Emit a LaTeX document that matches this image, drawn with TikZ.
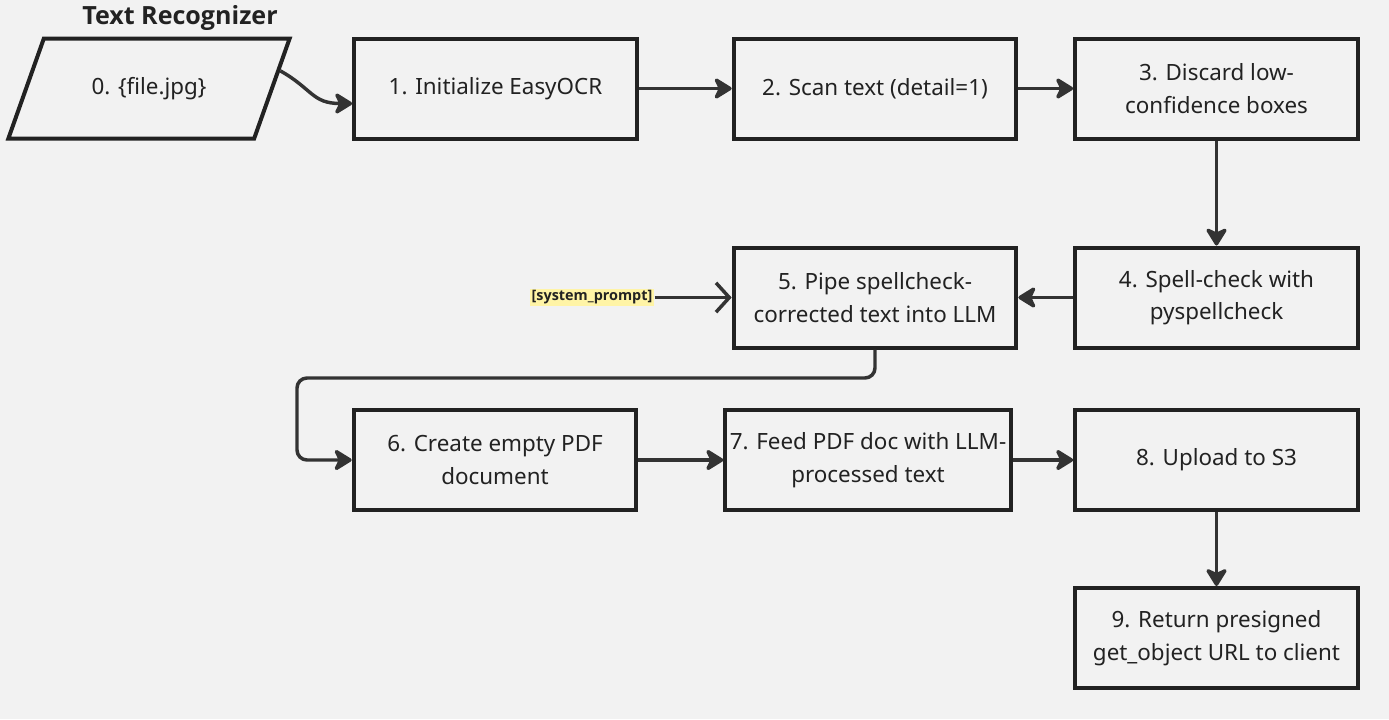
\documentclass[tikz,border=0pt]{standalone}
\usepackage{fontspec}
\setmainfont{Noto Sans}
\newfontfamily\headfont{Open Sans}
\usetikzlibrary{arrows.meta,calc,shapes.geometric}
\definecolor{bgcol}{HTML}{F2F2F2}
\definecolor{edgecol}{HTML}{222222}
\definecolor{linecol}{HTML}{333333}
\definecolor{notecol}{HTML}{FFF4A6}
\tikzset{
	stepbox/.style={draw=edgecol, line width=3pt, minimum width=212pt, minimum height=75pt, align=center, text=edgecol, font=\fontsize{16.8}{24.5}\selectfont},
	inbox/.style={trapezium, trapezium left angle=56.4, trapezium right angle=123.6, trapezium stretches=true, draw=edgecol, line width=3pt, minimum width=211pt, minimum height=75pt, text=edgecol, font=\fontsize{16.8}{24.5}\selectfont},
	flow/.style={draw=linecol, line width=2.6pt, -{Stealth[round, length=15.5pt, width=19pt, inset=4.5pt]}},
	notearrow/.style={draw=linecol, line width=2.6pt, -{Straight Barb[length=10pt, width=22pt]}},
	note/.style={fill=notecol, inner sep=1.5pt, text=edgecol, font=\headfont\bfseries\fontsize{10.8}{12}\selectfont},
}
\begin{document}
	\begin{tikzpicture}[x=0.75pt, y=-0.75pt]
		\fill[bgcol] (0,0) rectangle (1389,719);
		\useasboundingbox (0,0) rectangle (1389,719);
		% title and input
		\node[text=edgecol, font=\headfont\bfseries\fontsize{18.8}{24.5}\selectfont] (title) at (180,18) {Text Recognizer};
		\node[inbox] (p0) at (149,88.5) {0. \{file.jpg\}};
		% steps
		\node[stepbox] (b1) at (495.5,88.5) {1. Initialize EasyOCR};
		\node[stepbox] (b2) at (875,88.5) {2. Scan text (detail=1)};
		\node[stepbox] (b3) at (1216.5,88.5) {3. Discard low-\\confidence boxes};
		\node[stepbox] (b4) at (1216.5,297.5) {4. Spell-check with\\pyspellcheck};
		\node[stepbox] (b5) at (875,297.5) {5. Pipe spellcheck-\\corrected text into LLM};
		\node[stepbox] (b6) at (495,460) {6. Create empty PDF\\document};
		\node[stepbox] (b7) at (868,460) {7. Feed PDF doc with LLM-\\processed text};
		\node[stepbox] (b8) at (1216.5,460) {8. Upload to S3};
		\node[stepbox] (b9) at (1216.5,638) {9. Return presigned\\get\_object URL to client};
		\node[note] (sys) at (592,297.5) {[system\_prompt]};
		% connectors
		\coordinate (p0out) at ($(p0.top right corner)!0.33!(p0.bottom right corner)$);
		\coordinate (b1in) at ($(b1.west)+(0,15)$);
		\coordinate (turn) at (297,378);
		\draw[flow] (p0out) .. controls +(32,18) and +(-40,0) .. (b1in);
		\draw[flow] (b1) -- (b2);
		\draw[flow] (b2) -- (b3);
		\draw[flow] (b3) -- (b4);
		\draw[flow] (b4) -- (b5);
		\draw[notearrow] (sys) -- (b5);
		\draw[flow, rounded corners=7.5pt] (b5.south) |- (turn) |- (b6.west);
		\draw[flow] (b6) -- (b7);
		\draw[flow] (b7) -- (b8);
		\draw[flow] (b8) -- (b9);
	\end{tikzpicture}
\end{document}
